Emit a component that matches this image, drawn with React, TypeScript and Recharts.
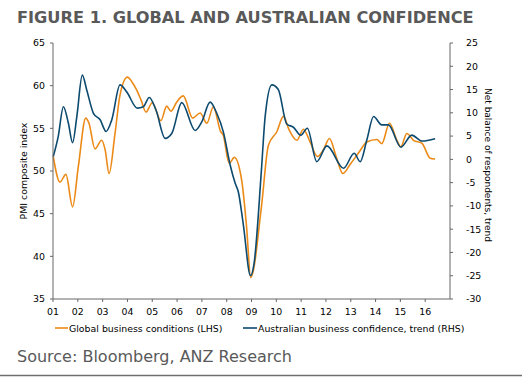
import { LineChart, Line, XAxis, YAxis } from "recharts";

// Global business conditions (LHS), PMI composite index
const globalDates = [
  2001.01, 2001.28, 2001.52, 2001.79, 2002.02, 2002.32, 2002.45, 2002.69, 2002.96,
  2003.1, 2003.26, 2003.5, 2003.7, 2004.0, 2004.17, 2004.37, 2004.55, 2004.75,
  2005.0, 2005.35, 2005.58, 2005.75, 2005.99, 2006.25, 2006.63, 2006.93, 2007.2,
  2007.46, 2007.76, 2007.86, 2008.1, 2008.31, 2008.61, 2008.8, 2008.97, 2009.4,
  2009.68, 2010.02, 2010.29, 2010.49, 2010.83, 2011.09, 2011.36, 2011.66, 2011.9,
  2012.14, 2012.41, 2012.68, 2012.98, 2013.31, 2013.65, 2014.05, 2014.25, 2014.56,
  2014.86, 2015.02, 2015.26, 2015.53, 2015.87, 2016.2, 2016.4,
];
const globalValues = [
  51.7, 48.7, 49.6, 45.8, 50.5, 56.2, 55.6, 52.6, 53.6,
  52.5, 49.7, 54.4, 58.9, 61.0, 60.5, 59.5, 58.3, 56.9,
  58.0, 55.9, 57.6, 57.0, 58.1, 58.8, 56.2, 56.8, 55.6,
  57.5, 54.6, 54.2, 50.9, 51.6, 48.8, 43.5, 37.5, 45.8,
  53.0, 54.6, 56.4, 55.0, 53.6, 54.9, 53.4, 51.7, 52.5,
  53.8, 51.7, 49.7, 50.8, 52.1, 53.4, 53.7, 53.2, 55.6,
  53.6, 52.85, 54.4, 53.6, 53.25, 51.5, 51.4,
];

// Australian business confidence, trend (RHS), net balance
const ausDates = [
  2001.01, 2001.21, 2001.42, 2001.62, 2001.79, 2001.96, 2002.18, 2002.36, 2002.63,
  2002.9, 2003.14, 2003.37, 2003.7, 2003.97, 2004.4, 2004.64, 2004.88, 2005.15,
  2005.52, 2005.79, 2006.19, 2006.73, 2007.0, 2007.33, 2007.6, 2007.87, 2008.14,
  2008.34, 2008.47, 2008.67, 2008.96, 2009.1, 2009.4, 2009.55, 2009.82, 2010.08,
  2010.42, 2010.69, 2010.99, 2011.25, 2011.63, 2012.04, 2012.71, 2013.14, 2013.38,
  2013.65, 2013.92, 2014.25, 2014.52, 2015.02, 2015.46, 2015.87, 2016.4,
];
const ausValues = [
  0.6, 4.9, 11.3, 7.75, 3.6, 9.2, 18.1, 14.9, 9.9,
  8.5, 6.0, 8.5, 16.0, 14.5, 11.0, 11.3, 13.3, 10.6,
  4.5, 5.6, 12.2, 6.2, 8.1, 12.3, 9.9, 5.8, -1.2,
  -5.1, -7.0, -14.0, -25.0, -22.5, -2.3, 9.2, 16.0, 15.0,
  7.6, 6.9, 5.2, 6.7, -0.5, 2.9, -1.9, 1.3, -0.5,
  4.2, 9.2, 7.4, 7.4, 2.6, 5.2, 3.95, 4.45,
];

const yearTicks = [
  2001, 2002, 2003, 2004, 2005, 2006, 2007, 2008,
  2009, 2010, 2011, 2012, 2013, 2014, 2015, 2016,
];
const leftTicks = [35, 40, 45, 50, 55, 60, 65];
const rightTicks = [-30, -25, -20, -15, -10, -5, 0, 5, 10, 15, 20, 25];

const seriesNames = [
  "Global business conditions (LHS)",
  "Australian business confidence, trend (RHS)",
];
const ORANGE = "#EC8A17";
const BLUE = "#0D4A6F";
const FONT = "'DejaVu Sans', Verdana, sans-serif";

const globalData = globalDates.map((t, i) => ({ t, v: globalValues[i] }));
const ausData = ausDates.map((t, i) => ({ t, v: ausValues[i] }));

const tickStyle = { fill: "#000", fontSize: 9.4, fontFamily: FONT };

function LeftTitle(props: any) {
  const vb = props.viewBox || { x: 0, y: 43, width: 53, height: 256 };
  const cx = vb.x + 23;
  const cy = vb.y + vb.height / 2;
  return (
    <text
      x={cx}
      y={cy}
      transform={`rotate(-90, ${cx}, ${cy})`}
      textAnchor="middle"
      dominantBaseline="central"
      style={{ fontSize: 9.4, fontFamily: FONT, fill: "#000" }}
    >
      PMI composite index
    </text>
  );
}

function RightTitle(props: any) {
  const vb = props.viewBox || { x: 450, y: 43, width: 72, height: 256 };
  const cx = vb.x + 38;
  const cy = vb.y + vb.height / 2 - 6;
  return (
    <text
      x={cx}
      y={cy}
      transform={`rotate(90, ${cx}, ${cy})`}
      textAnchor="middle"
      dominantBaseline="central"
      style={{ fontSize: 9, fontFamily: FONT, fill: "#000" }}
    >
      Net balance of respondents, trend
    </text>
  );
}

export default function App() {
  return (
    <div
      style={{
        position: "absolute",
        left: 0,
        top: 0,
        width: 522,
        height: 390,
        background: "#fff",
      }}
    >
      <LineChart
        width={522}
        height={390}
        margin={{ top: 43, right: 0, bottom: 71, left: 0 }}
      >
        <XAxis
          dataKey="t"
          type="number"
          domain={[2001, 2017]}
          ticks={yearTicks}
          interval={0}
          height={20}
          tickFormatter={(v: number) => String(v).slice(2)}
          tick={tickStyle}
          tickSize={3}
          tickMargin={6}
          axisLine={{ stroke: "#666" }}
          tickLine={{ stroke: "#666" }}
          allowDuplicatedCategory={false}
        />
        <YAxis
          yAxisId="left"
          orientation="left"
          width={53}
          domain={[35, 65]}
          ticks={leftTicks}
          interval={0}
          tick={tickStyle}
          tickSize={3}
          tickMargin={5}
          axisLine={{ stroke: "#666" }}
          tickLine={{ stroke: "#666" }}
          label={<LeftTitle />}
        />
        <YAxis
          yAxisId="right"
          orientation="right"
          width={72}
          domain={[-30, 25]}
          ticks={rightTicks}
          interval={0}
          tick={tickStyle}
          tickSize={3}
          tickMargin={13}
          axisLine={{ stroke: "#666" }}
          tickLine={{ stroke: "#666" }}
          label={<RightTitle />}
        />
        <Line
          yAxisId="left"
          data={globalData}
          dataKey="v"
          name={seriesNames[0]}
          type="monotone"
          stroke={ORANGE}
          strokeWidth={1.6}
          dot={false}
          isAnimationActive={false}
        />
        <Line
          yAxisId="right"
          data={ausData}
          dataKey="v"
          name={seriesNames[1]}
          type="monotone"
          stroke={BLUE}
          strokeWidth={1.6}
          dot={false}
          isAnimationActive={false}
        />
      </LineChart>
      <svg
        width={522}
        height={390}
        style={{ position: "absolute", left: 0, top: 0, pointerEvents: "none" }}
      >
        <text
          x={17}
          y={23}
          style={{ fontFamily: FONT, fontWeight: "bold", fontSize: 16.2, fill: "#595959" }}
        >
          FIGURE 1. GLOBAL AND AUSTRALIAN CONFIDENCE
        </text>
        <line x1={55} x2={68} y1={328} y2={328} stroke={ORANGE} strokeWidth={1.6} />
        <text x={69} y={331.5} style={{ fontFamily: FONT, fontSize: 9.4, fill: "#000" }}>
          {seriesNames[0]}
        </text>
        <line x1={243} x2={257} y1={328} y2={328} stroke={BLUE} strokeWidth={1.6} />
        <text x={258} y={331.5} style={{ fontFamily: FONT, fontSize: 9.4, fill: "#000" }}>
          {seriesNames[1]}
        </text>
        <text x={17} y={362} style={{ fontFamily: FONT, fontSize: 16, fill: "#595959" }}>
          Source: Bloomberg, ANZ Research
        </text>
        <line x1={0} x2={522} y1={375.5} y2={375.5} stroke="#6f6f6f" strokeWidth={1.5} />
      </svg>
    </div>
  );
}
